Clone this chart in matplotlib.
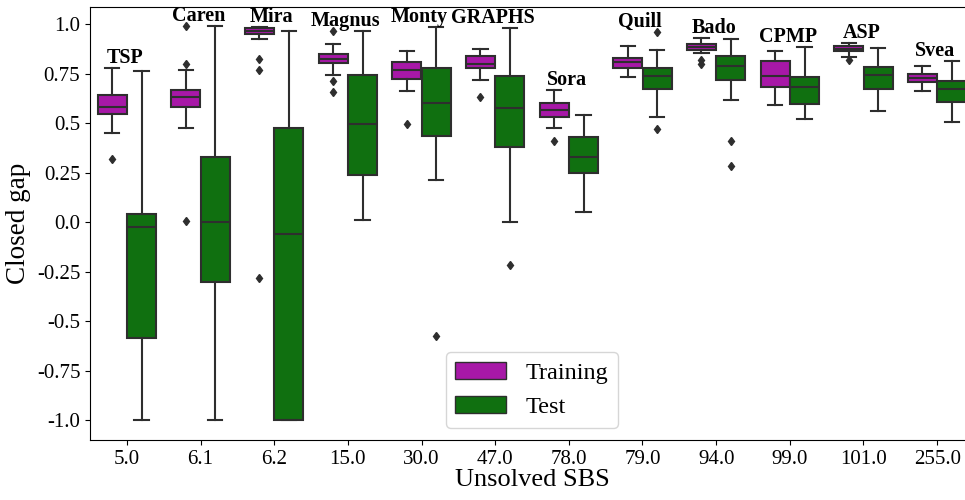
import numpy as np
import matplotlib
matplotlib.use("Agg")
import matplotlib.pyplot as plt
from matplotlib.patches import Patch

plt.rcParams['font.family'] = 'serif'
plt.rcParams['font.serif'] = ['Liberation Serif', 'DejaVu Serif']

# ---- data ----
sbs_labels = ["5.0", "6.1", "6.2", "15.0", "30.0", "47.0", "78.0", "79.0", "94.0", "99.0", "101.0", "255.0"]
solvers = ["TSP", "Caren", "Mira", "Magnus", "Monty", "GRAPHS", "Sora", "Quill", "Bado", "CPMP", "ASP", "Svea"]

train_lo  = [0.450, 0.478, 0.924, 0.742, 0.665, 0.717, 0.475, 0.734, 0.854, 0.591, 0.837, 0.663]
train_q1  = [0.547, 0.584, 0.951, 0.803, 0.722, 0.778, 0.532, 0.779, 0.872, 0.685, 0.864, 0.709]
train_med = [0.585, 0.631, 0.965, 0.825, 0.769, 0.800, 0.566, 0.810, 0.886, 0.737, 0.875, 0.729]
train_q3  = [0.643, 0.668, 0.980, 0.848, 0.811, 0.840, 0.603, 0.830, 0.899, 0.815, 0.889, 0.747]
train_hi  = [0.780, 0.768, 0.985, 0.900, 0.865, 0.877, 0.667, 0.890, 0.929, 0.865, 0.906, 0.790]
train_fliers = [[0.32], [0.99, 0.80, 0.007], [0.823, 0.771, -0.28], [0.966, 0.712, 0.657],
                [0.497], [0.633], [0.41], [], [0.818, 0.80], [], [0.82], []]

test_lo  = [-1.0, -1.0, -1.0, 0.012, 0.214, 0.002, 0.052, 0.532, 0.618, 0.520, 0.562, 0.505]
test_q1  = [-0.584, -0.30, -1.0, 0.241, 0.438, 0.380, 0.251, 0.672, 0.717, 0.597, 0.673, 0.610]
test_med = [-0.024, 0.003, -0.061, 0.498, 0.603, 0.577, 0.332, 0.737, 0.788, 0.683, 0.744, 0.672]
test_q3  = [0.040, 0.328, 0.475, 0.746, 0.778, 0.741, 0.433, 0.779, 0.840, 0.734, 0.784, 0.712]
test_hi  = [0.763, 0.99, 0.968, 0.966, 0.988, 0.980, 0.544, 0.869, 0.924, 0.885, 0.879, 0.813]
test_fliers = [[], [], [], [], [-0.576], [-0.217], [], [0.96, 0.47], [0.413, 0.283], [], [], []]

yticks = [1.0, 0.75, 0.5, 0.25, 0.0, -0.25, -0.5, -0.75, -1.0]
ytick_labels = ["1.0", "0.75", "0.5", "0.25", "0.0", "-0.25", "-0.5", "-0.75", "-1.0"]

# ---- styling ----
train_color = "#a718a7"
test_color = "#107010"
line_gray = "#2e2e2e"

fig = plt.figure(figsize=(9.65, 5.0), dpi=100)
ax = fig.add_axes([0.0933, 0.12, 0.916, 0.8667])

def make_stats(lo, q1, med, q3, hi, fl):
    return [dict(whislo=a, q1=b, med=c, q3=d, whishi=e, fliers=f)
            for a, b, c, d, e, f in zip(lo, q1, med, q3, hi, fl)]

idx = np.arange(len(sbs_labels))
w = 0.4 * 0.98

for stats, pos, col in [
    (make_stats(train_lo, train_q1, train_med, train_q3, train_hi, train_fliers), idx - 0.2, train_color),
    (make_stats(test_lo, test_q1, test_med, test_q3, test_hi, test_fliers), idx + 0.2, test_color),
]:
    ax.bxp(stats, positions=pos, widths=w, patch_artist=True, manage_ticks=False,
           boxprops=dict(facecolor=col, edgecolor=line_gray, linewidth=1.5),
           medianprops=dict(color=line_gray, linewidth=1.5),
           whiskerprops=dict(color=line_gray, linewidth=1.5),
           capprops=dict(color=line_gray, linewidth=1.5),
           flierprops=dict(marker='d', markerfacecolor=line_gray, markeredgecolor=line_gray,
                           markersize=4.5, linestyle='none'))

# solver names above each group
for i, name in enumerate(solvers):
    top = max(train_hi[i], test_hi[i], *(train_fliers[i] + test_fliers[i] + [-2]))
    ax.text(i - 0.03, top, name, ha='center', va='bottom', fontsize=14.5, fontweight='bold')

ax.set_xlim(-0.5, len(sbs_labels) - 0.5)
ax.set_ylim(-1.0995, 1.0895)
ax.set_xticks(idx)
ax.set_xticklabels(sbs_labels)
ax.set_yticks(yticks)
ax.set_yticklabels(ytick_labels)
ax.tick_params(labelsize=15)
ax.set_xlabel("Unsolved SBS", fontsize=19, labelpad=0)
ax.set_ylabel("Closed gap", fontsize=19.5)

handles = [Patch(facecolor=train_color, edgecolor=line_gray, linewidth=1.0, label="Training"),
           Patch(facecolor=test_color, edgecolor=line_gray, linewidth=1.0, label="Test")]
ax.legend(handles=handles, loc='lower center', fontsize=17.5, handlelength=2.1)

fig.savefig("out.png", dpi=100)
